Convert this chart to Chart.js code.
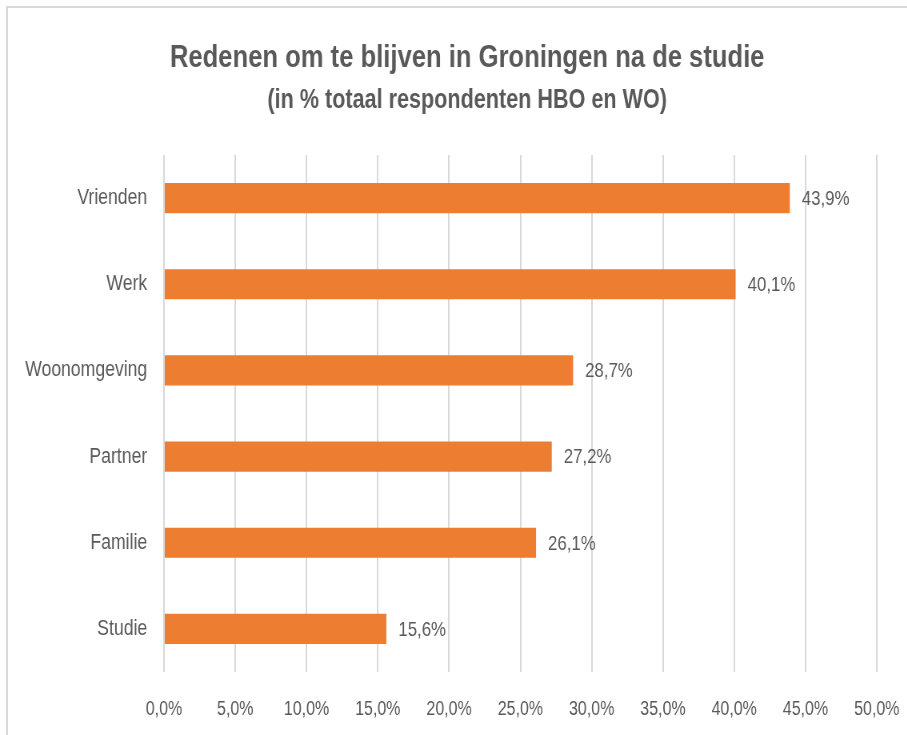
<!DOCTYPE html>
<html>
<head>
<meta charset="utf-8">
<script src="https://cdn.jsdelivr.net/npm/chart.js@4/dist/chart.umd.min.js"></script>
<style>
  html, body { margin: 0; padding: 0; background: #fff; overflow: hidden; }
  #frame { position: absolute; left: 6px; top: 6px; width: 920px; height: 750px;
           border-left: 2px solid #d9d9d9; border-top: 2px solid #d9d9d9; }
  /* smal lettertype nabootsen: breed tekenen, horizontaal samendrukken */
  #wrap { position: absolute; left: 0; top: 0; width: 1134px; height: 735px;
          transform: scaleX(0.8); transform-origin: 0 0; }
</style>
</head>
<body>
<div id="frame"></div>
<div id="wrap">
  <canvas id="redenenChart" width="1134" height="735"></canvas>
</div>
<script>
const categories = ['Vrienden', 'Werk', 'Woonomgeving', 'Partner', 'Familie', 'Studie'];
const percentages = [43.9, 40.1, 28.7, 27.2, 26.1, 15.6];
const tickValues = [0, 5, 10, 15, 20, 25, 30, 35, 40, 45, 50];

const titleText = 'Redenen om te blijven in Groningen na de studie';
const subtitleText = '(in % totaal respondenten HBO en WO)';

const fontFamily = '"Liberation Sans", Arial, sans-serif';
const textColor = '#595959';

function fmt(v) {
  return v.toFixed(1).replace('.', ',') + '%';
}

// titel en ondertitel, iets rechts van het midden zoals in het origineel
const titleBlock = {
  id: 'titleBlock',
  afterDraw(chart) {
    const ctx = chart.ctx;
    ctx.save();
    ctx.fillStyle = textColor;
    ctx.textAlign = 'center';
    ctx.textBaseline = 'middle';
    ctx.font = 'bold 32px ' + fontFamily;
    ctx.fillText(titleText, 584, 58);
    ctx.font = 'bold 27px ' + fontFamily;
    ctx.fillText(subtitleText, 584, 101);
    ctx.restore();
  }
};

// eigen labels aan het eind van elke balk
const valueLabels = {
  id: 'valueLabels',
  afterDatasetsDraw(chart) {
    const ctx = chart.ctx;
    const meta = chart.getDatasetMeta(0);
    ctx.save();
    ctx.font = '21px ' + fontFamily;
    ctx.fillStyle = textColor;
    ctx.textAlign = 'left';
    ctx.textBaseline = 'middle';
    meta.data.forEach(function(bar, i) {
      ctx.fillText(fmt(percentages[i]), bar.x + 15, bar.y + 1);
    });
    ctx.restore();
  }
};

document.addEventListener('DOMContentLoaded', function() {
  const ctx = document.getElementById('redenenChart').getContext('2d');

  new Chart(ctx, {
    type: 'bar',
    data: {
      labels: categories,
      datasets: [{
        data: percentages,
        backgroundColor: '#ED7D31',
        borderWidth: 0,
        barPercentage: 0.7,
        categoryPercentage: 0.5
      }]
    },
    options: {
      indexAxis: 'y',
      responsive: false,
      animation: false,
      layout: { padding: { left: 0, right: 38, top: 155, bottom: 0 } },
      plugins: {
        legend: { display: false },
        tooltip: { enabled: false },
        title: { display: false }
      },
      scales: {
        x: {
          min: 0,
          max: 50,
          afterBuildTicks: function(axis) {
            axis.ticks = tickValues.map(function(v) { return { value: v }; });
          },
          afterFit: function(axis) {
            axis.height = 63;
            axis.paddingLeft = 0;
            axis.paddingRight = 0;
          },
          grid: { color: '#d9d9d9', lineWidth: 2, drawTicks: false },
          border: { display: false },
          ticks: {
            color: textColor,
            padding: 25,
            maxRotation: 0,
            font: { family: fontFamily, size: 20 },
            callback: function(value) { return fmt(value); }
          }
        },
        y: {
          afterFit: function(axis) { axis.width = 205; },
          grid: { display: false },
          border: { display: false },
          ticks: {
            color: textColor,
            padding: 13,
            font: { family: fontFamily, size: 22 }
          }
        }
      }
    },
    plugins: [valueLabels, titleBlock]
  });
});
</script>
</body>
</html>
